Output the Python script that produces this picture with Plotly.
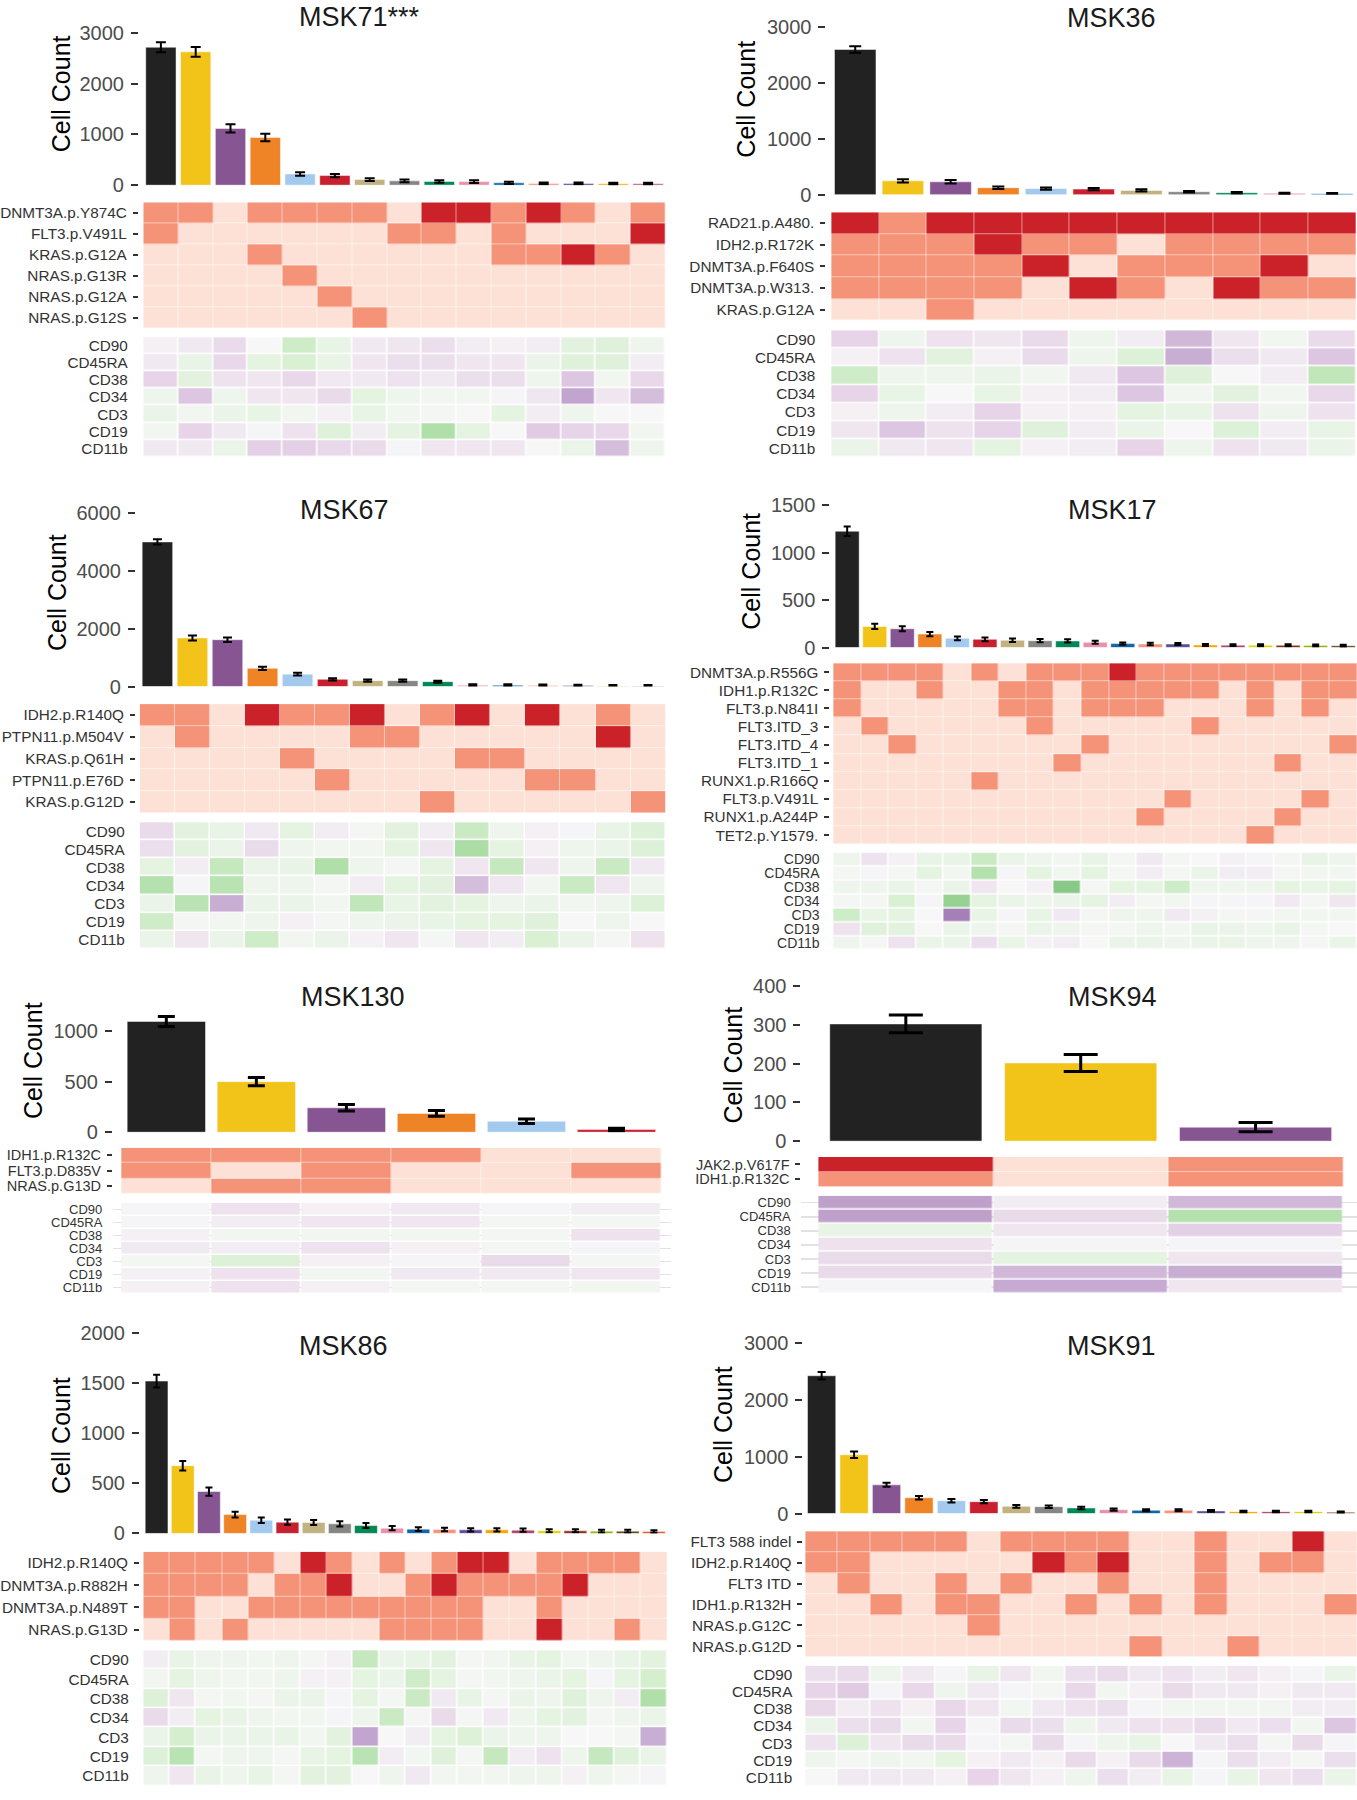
import plotly.graph_objects as go

W, H = 1357, 1800
FONT = "Liberation Sans, Arial, sans-serif"

KELLY = ['#222222', '#F2C318', '#875692', '#EF8427', '#A3CAEE', '#C8202E', '#C2B280',
         '#868684', '#008856', '#E791AE', '#1065A8', '#F99379', '#604E97', '#F6A600',
         '#B3446C', '#DCD300', '#882D17', '#8DB600', '#654522', '#E25822']
MUT_SCALE = [[0, '#FDE1D6'], [0.333, '#FDE1D6'], [0.333, '#F59379'], [0.667, '#F59379'],
             [0.667, '#CB2229'], [1, '#CB2229']]
PROT_SCALE = [[0, '#9970AB'], [1 / 6, '#C2A5CF'], [2 / 6, '#E7D4E8'], [0.5, '#F7F7F7'],
              [4 / 6, '#D9F0D3'], [5 / 6, '#A6DBA0'], [1, '#5AAE61']]
PROTEINS = ['CD90', 'CD45RA', 'CD38', 'CD34', 'CD3', 'CD19', 'CD11b']

# ---------------- MSK71 ----------------
msk71_ticks = [0, 1000, 2000, 3000]
msk71_counts = [2720, 2630, 1120, 940, 220, 190, 110, 85, 72, 70, 46, 35, 33, 27, 26]
msk71_err = [100, 95, 80, 75, 35, 32, 28, 25, 25, 25, 22, 20, 20, 20, 20]
msk71_mut_labels = ['DNMT3A.p.Y874C', 'FLT3.p.V491L', 'KRAS.p.G12A', 'NRAS.p.G13R', 'NRAS.p.G12A', 'NRAS.p.G12S']
msk71_mut = [
    [1, 1, 0, 1, 1, 1, 1, 0, 2, 2, 1, 2, 1, 0, 1],
    [1, 0, 0, 0, 0, 0, 0, 1, 1, 0, 1, 0, 0, 0, 2],
    [0, 0, 0, 1, 0, 0, 0, 0, 0, 0, 1, 1, 2, 1, 0],
    [0, 0, 0, 0, 1, 0, 0, 0, 0, 0, 0, 0, 0, 0, 0],
    [0, 0, 0, 0, 0, 1, 0, 0, 0, 0, 0, 0, 0, 0, 0],
    [0, 0, 0, 0, 0, 0, 1, 0, 0, 0, 0, 0, 0, 0, 0]]
msk71_prot = [
    [-0.2, -0.4, -0.8, 0, 1.2, 0.5, -0.4, -0.5, -0.7, -0.3, -0.2, -0.3, 0.7, 0.8, 0.3],
    [-0.4, 0.5, -0.9, 0.6, 1.0, 0.5, -0.5, -0.7, -0.7, -0.5, -0.5, 0.4, 0.8, 0.8, -0.3],
    [-1.0, 0.7, -0.6, -0.5, -0.9, -0.4, -0.4, -0.6, -0.4, -0.7, -0.7, 0.3, -1.3, 0.2, -0.9],
    [0.3, -1.3, 0.3, -0.5, -0.5, -0.8, 0.6, 0.3, 0.2, 0.2, -0.1, -0.5, -2.0, -0.5, -1.5],
    [0.4, 0.2, 0.4, 0.5, 0.2, -0.2, 0.5, 0.2, 0.1, 0, 0.6, -0.3, 0.3, 0, 0],
    [0.2, -1.0, -0.4, -0.1, -0.6, 0.8, -0.3, 0.6, 1.8, 0.6, 0, -1.2, -1.0, -0.9, 0.2],
    [-0.4, -0.4, 0.4, -1.1, -1.1, -0.9, -0.8, -0.1, -0.5, -0.5, -0.5, 0, 0.4, -1.5, 0.3]]

# ---------------- MSK36 ----------------
msk36_ticks = [0, 1000, 2000, 3000]
msk36_counts = [2590, 247, 230, 125, 110, 100, 77, 53, 35, 24, 18]
msk36_err = [60, 30, 30, 22, 20, 20, 18, 15, 15, 12, 12]
msk36_mut_labels = ['RAD21.p.A480.', 'IDH2.p.R172K', 'DNMT3A.p.F640S', 'DNMT3A.p.W313.', 'KRAS.p.G12A']
msk36_mut = [
    [2, 1, 2, 2, 2, 2, 2, 2, 2, 2, 2],
    [1, 1, 1, 2, 1, 1, 0, 1, 1, 1, 1],
    [1, 1, 1, 1, 2, 0, 1, 1, 1, 2, 0],
    [1, 1, 1, 1, 0, 2, 1, 0, 2, 1, 1],
    [0, 0, 1, 0, 0, 0, 0, 0, 0, 0, 0]]
msk36_prot = [
    [-1.0, 0.3, -0.6, -0.5, -0.8, 0.3, -0.3, -1.6, -0.5, 0.2, -0.8],
    [-0.2, -0.6, 0.7, -0.2, -0.8, 0.3, 0.9, -1.8, -0.7, -0.4, -1.3],
    [1.2, 0.3, 0.3, 0.4, 0.2, -0.4, -1.3, 0.8, 0, -0.3, 1.5],
    [-1.0, 0.5, 0, 0.5, -0.2, -0.3, -1.3, 0.2, 0.7, 0.2, -0.9],
    [-0.2, 0.3, -0.3, -1.0, -0.2, -0.2, 0.6, 0.5, -0.6, 0.3, -0.6],
    [-0.5, -1.3, -0.6, -1.0, 0.8, -0.3, 0.4, 0, 0.9, -0.3, 0.5],
    [0.4, -0.4, -0.5, 0.6, -0.2, -0.3, -1.0, 0.3, -0.6, -0.4, 0.4]]

# ---------------- MSK67 ----------------
msk67_ticks = [0, 2000, 4000, 6000]
msk67_counts = [5000, 1680, 1620, 630, 430, 250, 205, 205, 170, 46, 46, 40, 34, 23, 23]
msk67_err = [90, 85, 75, 55, 45, 40, 38, 38, 35, 30, 30, 30, 30, 30, 30]
msk67_mut_labels = ['IDH2.p.R140Q', 'PTPN11.p.M504V', 'KRAS.p.Q61H', 'PTPN11.p.E76D', 'KRAS.p.G12D']
msk67_mut = [
    [1, 1, 0, 2, 1, 1, 2, 0, 1, 2, 0, 2, 0, 1, 0],
    [0, 1, 0, 0, 0, 0, 1, 1, 0, 0, 0, 0, 0, 2, 0],
    [0, 0, 0, 0, 1, 0, 0, 0, 0, 1, 1, 0, 0, 0, 0],
    [0, 0, 0, 0, 0, 1, 0, 0, 0, 0, 0, 1, 1, 0, 0],
    [0, 0, 0, 0, 0, 0, 0, 0, 1, 0, 0, 0, 0, 0, 1]]
msk67_prot = [
    [-0.8, 0.7, 0.5, -0.4, 0.6, -0.3, 0.1, 0.7, -0.3, 1.3, 0.3, -0.2, -0.1, 0.5, 0.9],
    [-0.7, 0.7, 0.4, -0.8, 0.3, 0.2, 0.2, 0.6, -0.5, 1.9, 0.6, -0.2, 0.3, 0.4, 0.9],
    [0.6, -0.3, 1.4, 0.4, 0.5, 1.8, 0.3, 0.1, 0.6, -0.5, 1.4, -0.5, 0.3, 1.3, -0.4],
    [1.7, -0.1, 1.6, 0.3, 0.3, 0.1, -0.3, 0.6, 0.7, -1.5, -0.5, 0.2, 1.3, -0.5, 0.3],
    [0.4, 1.6, -1.8, 0.4, 0.4, 0.2, 1.5, 0.5, 0.7, 0.6, 0.3, 0.4, 0.2, 0.3, 0.9],
    [1.2, 0.1, 0.2, 0.3, -0.2, 0.1, 0.3, 0.4, 0.5, 0.6, 0.6, 0.8, 0, 0.3, 0],
    [0.4, -0.5, 0.4, 1.2, 0.2, 0.4, -0.2, -0.5, 0.1, -0.5, -0.3, 1.0, 0.4, 0.1, -0.6]]

# ---------------- MSK17 ----------------
msk17_ticks = [0, 500, 1000, 1500]
msk17_counts = [1228, 223, 199, 143, 98, 87, 77, 73, 70, 56, 42, 38, 38, 28, 26, 24, 24, 22, 20]
msk17_err = [50, 28, 27, 22, 20, 20, 18, 17, 17, 15, 12, 12, 11, 10, 10, 10, 10, 10, 10]
msk17_mut_labels = ['DNMT3A.p.R556G', 'IDH1.p.R132C', 'FLT3.p.N841I', 'FLT3.ITD_3', 'FLT3.ITD_4',
                    'FLT3.ITD_1', 'RUNX1.p.R166Q', 'FLT3.p.V491L', 'RUNX1.p.A244P', 'TET2.p.Y1579.']
msk17_mut = [
    [1, 1, 1, 1, 0, 1, 0, 1, 1, 1, 2, 1, 1, 1, 1, 1, 1, 1, 1],
    [1, 0, 0, 1, 0, 0, 1, 1, 0, 1, 1, 1, 1, 1, 0, 1, 0, 1, 1],
    [1, 0, 0, 0, 0, 0, 1, 1, 0, 1, 1, 1, 0, 0, 0, 1, 0, 1, 0],
    [0, 1, 0, 0, 0, 0, 0, 1, 0, 0, 0, 0, 0, 1, 0, 0, 0, 0, 0],
    [0, 0, 1, 0, 0, 0, 0, 0, 0, 1, 0, 0, 0, 0, 0, 0, 0, 0, 1],
    [0, 0, 0, 0, 0, 0, 0, 0, 1, 0, 0, 0, 0, 0, 0, 0, 1, 0, 0],
    [0, 0, 0, 0, 0, 1, 0, 0, 0, 0, 0, 0, 0, 0, 0, 0, 0, 0, 0],
    [0, 0, 0, 0, 0, 0, 0, 0, 0, 0, 0, 0, 1, 0, 0, 0, 0, 1, 0],
    [0, 0, 0, 0, 0, 0, 0, 0, 0, 0, 0, 1, 0, 0, 0, 0, 1, 0, 0],
    [0, 0, 0, 0, 0, 0, 0, 0, 0, 0, 0, 0, 0, 0, 0, 1, 0, 0, 0]]
msk17_prot = [
    [0.3, -0.6, -0.2, 0.5, 0.5, 1.3, 0.4, 0.3, 0.2, 0.5, 0.1, -0.4, 0.1, 0, -0.2, -0.1, 0.1, 0.5, 0.3],
    [0.1, -0.1, 0.1, 0.6, 0.2, 1.7, -0.1, 0.6, 0.2, 0.6, 0.1, -0.3, 0.1, 0.4, -0.3, -0.3, 0.1, 0.2, 0.2],
    [0.3, 0.3, 0.4, 0.1, 0.4, -0.5, 0, -0.2, 2.4, 0.1, 0.6, 0.6, 1.2, 0.3, 0.3, 0.3, 0.6, 0.5, 0.6],
    [0.1, 0.1, 1.0, -0.1, 2.2, 0.6, 0.4, 0.3, 0.4, 0.6, -0.3, 0.1, 0.2, -0.1, -0.1, -0.1, -0.4, 0.1, -0.5],
    [1.2, 0.5, 0.6, 0, -2.7, 0.5, -0.1, 0.5, -0.4, 0.1, 0.3, 0.3, -0.4, -0.2, 0.1, 0.1, 0.2, 0.2, 0.2],
    [-0.6, 0.8, 0.7, 0, 0.4, 0.3, 0.1, 0.4, 0.3, 0.1, 0.1, 0.3, 0.2, 0.5, 0.4, 0.3, 0.5, 0.1, 0],
    [0.3, 0.1, -0.6, 0.4, 0.4, -0.7, 0.5, -0.2, -0.3, 0, 0.4, 0.4, 0.3, 0.4, 0.5, 0.3, 0.3, 0.1, 0.4]]

# ---------------- MSK130 ----------------
msk130_ticks = [0, 500, 1000]
msk130_counts = [1095, 500, 242, 186, 108, 26]
msk130_err = [50, 41, 31, 28, 23, 14]
msk130_mut_labels = ['IDH1.p.R132C', 'FLT3.p.D835V', 'NRAS.p.G13D']
msk130_mut = [
    [1, 1, 1, 1, 0, 0],
    [1, 0, 1, 0, 0, 1],
    [0, 1, 1, 0, 0, 0]]
msk130_prot = [
    [-0.1, -0.6, -0.2, -0.4, -0.1, -0.3],
    [-0.1, -0.3, -0.5, -0.5, 0.1, 0.1],
    [-0.2, 0.2, 0.2, 0.2, 0.1, -0.6],
    [-0.4, -0.3, -0.6, -0.2, 0.1, -0.1],
    [0.1, 0.9, -0.2, -0.1, -0.8, 0.1],
    [-0.2, -0.6, 0.2, -0.4, -0.4, -0.5],
    [-0.2, -0.6, -0.2, 0.1, 0.1, 0.2]]

# ---------------- MSK94 ----------------
msk94_ticks = [0, 100, 200, 300, 400]
msk94_counts = [303, 202, 36]
msk94_err = [23, 22, 12]
msk94_mut_labels = ['JAK2.p.V617F', 'IDH1.p.R132C']
msk94_mut = [[2, 0, 1], [1, 0, 1]]
msk94_prot = [
    [-2.1, -0.3, -1.6],
    [-2.1, -0.8, 1.7],
    [0.5, -0.5, -1.1],
    [-0.6, -0.1, -0.1],
    [-0.8, 0.6, -0.5],
    [-0.8, -1.6, -1.8],
    [-0.1, -1.9, -0.5]]

# ---------------- MSK86 ----------------
msk86_ticks = [0, 500, 1000, 1500, 2000]
msk86_counts = [1519, 675, 418, 188, 132, 112, 109, 96, 79, 53, 43, 40, 36, 36, 33, 26, 26, 23, 23, 20]
msk86_err = [64, 48, 41, 28, 28, 26, 26, 26, 24, 21, 19, 18, 17, 17, 16, 15, 15, 14, 14, 13]
msk86_mut_labels = ['IDH2.p.R140Q', 'DNMT3A.p.R882H', 'DNMT3A.p.N489T', 'NRAS.p.G13D']
msk86_mut = [
    [1, 1, 1, 1, 1, 0, 2, 1, 0, 1, 0, 1, 2, 2, 0, 1, 1, 1, 1, 0],
    [1, 1, 1, 1, 0, 1, 1, 2, 0, 0, 1, 2, 1, 1, 1, 1, 2, 0, 0, 0],
    [1, 1, 0, 0, 1, 1, 1, 1, 1, 1, 1, 1, 1, 0, 0, 1, 0, 0, 0, 0],
    [0, 1, 0, 1, 0, 0, 0, 0, 0, 1, 1, 1, 1, 0, 0, 2, 0, 0, 1, 0]]
msk86_prot = [
    [-0.3, 0.5, 0.3, 0.3, 0.2, 0.3, 0.1, -0.2, 1.4, 0.4, 0.5, 0.7, 0.1, 0.2, 0.5, 0.6, 0.2, 0.3, 0.5, 0.7],
    [0.2, 0.6, 0.3, 0.2, 0.2, 0.3, -0.2, -0.2, 0.6, 0.4, 1.2, 0.6, 0.1, 0.2, 0.3, 0.4, 0.6, -0.1, 0.6, 1.1],
    [0.9, -0.5, 0.1, 0.2, 0.1, 0.4, 0.4, -0.1, 0.6, 0.1, 1.3, -0.4, 0.5, 0.1, 0.4, 0.3, 0.8, 0.3, -0.3, 1.8],
    [-0.8, -0.3, 0.6, 0.5, 0.3, 0.2, 0.2, -0.1, 0.3, 1.3, 0.1, -0.8, 0.1, -0.4, 0.3, 0.6, 0.7, 0.1, 0.3, 0.4],
    [0.4, 1.1, 0.4, 0.4, 0.4, 0.5, 0.2, 0.7, -2.0, 0, -0.3, 0.6, 0.9, 0.4, 0.3, 0.3, 0, 0, 0.1, -1.8],
    [0.9, 1.6, 0.1, 0.3, 0.3, 0.1, 0.5, 0.6, 1.6, -0.3, 0.2, 0.8, 0.1, 1.4, -0.3, -0.6, 0.3, 1.4, 0.8, 0.4],
    [0.3, -0.5, 0.5, 0.3, 0.5, 0.1, 0.7, 0.7, 0, 0.3, -0.4, 0.2, 0.2, 0.2, 0.3, 0.3, -0.2, 0.3, 0.1, -0.1]]

# ---------------- MSK91 ----------------
msk91_ticks = [0, 1000, 2000, 3000]
msk91_counts = [2430, 1037, 507, 280, 227, 210, 128, 122, 99, 70, 58, 58, 47, 35, 35, 35, 23]
msk91_err = [65, 56, 35, 32, 30, 28, 23, 22, 20, 18, 17, 17, 16, 15, 15, 15, 14]
msk91_mut_labels = ['FLT3 588 indel', 'IDH2.p.R140Q', 'FLT3 ITD', 'IDH1.p.R132H', 'NRAS.p.G12C', 'NRAS.p.G12D']
msk91_mut = [
    [1, 1, 1, 1, 1, 0, 1, 1, 1, 1, 0, 0, 1, 0, 0, 2, 0],
    [1, 1, 0, 0, 0, 0, 0, 2, 1, 2, 0, 0, 1, 0, 1, 1, 0],
    [0, 1, 0, 0, 1, 0, 1, 0, 0, 1, 0, 0, 1, 0, 0, 0, 0],
    [0, 0, 1, 0, 1, 1, 0, 0, 1, 0, 1, 0, 1, 0, 0, 0, 1],
    [0, 0, 0, 0, 0, 1, 0, 0, 0, 0, 0, 0, 0, 0, 0, 0, 0],
    [0, 0, 0, 0, 0, 0, 0, 0, 0, 0, 1, 0, 0, 1, 0, 0, 0]]
msk91_prot = [
    [-0.7, -0.8, 0.3, -0.4, -0.1, 0.5, -0.5, 0.2, -0.7, -0.8, -0.4, -0.6, -0.3, -0.5, -0.2, -0.1, 0.4],
    [-1.0, -1.2, -0.1, -0.9, 0.3, -0.4, -0.1, 0.1, -0.9, 0.2, -0.2, -0.8, -0.4, -0.4, -0.2, -0.4, -0.4],
    [-0.9, -0.3, -0.6, -0.2, -0.9, -0.5, 0.2, -0.4, -0.6, -0.7, -0.1, 0.2, 0.2, 0.2, 0.2, -0.3, -0.3],
    [0.4, -0.7, -0.8, 0.2, -1.0, -0.1, -0.8, -0.7, 0.3, -0.4, -0.6, -0.6, -0.8, -0.4, -0.7, 0.2, -1.3],
    [-0.6, 0.9, -0.5, -0.8, -0.8, -0.1, 0.1, -0.8, -0.1, 0.3, 0.5, 0, -0.4, -0.7, 0.1, -0.8, -0.1],
    [0.3, 0.1, 0.3, 0.2, 0.6, -0.2, -0.4, -0.2, -0.8, -0.2, -0.8, -1.7, -0.1, -0.7, -0.3, 0.1, -0.7],
    [0, -0.4, -0.4, -0.4, -0.2, -1.0, -0.5, -0.2, 0.3, -0.7, -0.3, 0.5, -0.1, 0.5, -0.5, -0.7, 0.4]]

# ---------------- layout geometry (pixels) ----------------
GEO = {
    'MSK71': dict(heat_x=(142.6, 665), axis_x=138, zero=182.7, tick_val=3000, tick_px=29.3, bar_top=20,
                  mut_y=(200, 326.7), prot_y=(336, 456.7), title=(359, 13), ylab=(60, 90), cap=5, thick=2,
                  pad_r=0, mut_font=15.3, prot_font=15.3),
    'MSK36': dict(heat_x=(831, 1356), axis_x=826, zero=192.3, tick_val=3000, tick_px=22.7, bar_top=14,
                  mut_y=(210, 319.3), prot_y=(329, 457.3), title=(1111, 14), ylab=(746, 96), cap=6, thick=2,
                  pad_r=0, mut_font=15.3, prot_font=15.3),
    'MSK67': dict(heat_x=(139, 665), axis_x=135, zero=688.3, tick_val=6000, tick_px=513.3, bar_top=505,
                  mut_y=(706, 815.7), prot_y=(825, 953), title=(344, 510), ylab=(56, 593), cap=4.5, thick=2,
                  pad_r=0, mut_font=15.3, prot_font=15.3),
    'MSK17': dict(heat_x=(833, 1357), axis_x=830, zero=649, tick_val=1500, tick_px=505.7, bar_top=497,
                  mut_y=(664.7, 847.3), prot_y=(855.7, 954), title=(1112, 510), ylab=(751, 572), cap=3.5, thick=2,
                  pad_r=0, mut_font=15.3, prot_font=14),
    'MSK130': dict(heat_x=(120.4, 661), axis_x=112, zero=1137.7, tick_val=1000, tick_px=1035.7, bar_top=1012,
                   mut_y=(1153.3, 1200), prot_y=(1209, 1301), title=(352, 1001.7), ylab=(32, 1065), cap=8.5,
                   thick=3, pad_r=9, mut_font=14.5, prot_font=13),
    'MSK94': dict(heat_x=(818, 1343), axis_x=801, zero=1146.7, tick_val=400, tick_px=990.7, bar_top=984,
                  mut_y=(1162.7, 1192.7), prot_y=(1201.7, 1301), title=(1112, 1001.7), ylab=(733, 1070), cap=17,
                  thick=3, pad_r=14, mut_font=14.5, prot_font=13),
    'MSK86': dict(heat_x=(142.6, 666.5), axis_x=139, zero=1542.3, tick_val=2000, tick_px=1340, bar_top=1333,
                  mut_y=(1560.7, 1650.7), prot_y=(1660, 1796.7), title=(343, 1353), ylab=(60, 1443), cap=3.5,
                  thick=2, pad_r=0, mut_font=15.3, prot_font=15.3),
    'MSK91': dict(heat_x=(805, 1357), axis_x=803, zero=1522.3, tick_val=3000, tick_px=1350.7, bar_top=1344,
                  mut_y=(1540, 1666.7), prot_y=(1675.7, 1797.3), title=(1111, 1353), ylab=(722.5, 1432), cap=4,
                  thick=2, pad_r=0, mut_font=15.3, prot_font=15.3),
}

PANELS = [
    ('MSK71', 'MSK71***', msk71_ticks, msk71_counts, msk71_err, msk71_mut_labels, msk71_mut, msk71_prot),
    ('MSK36', 'MSK36', msk36_ticks, msk36_counts, msk36_err, msk36_mut_labels, msk36_mut, msk36_prot),
    ('MSK67', 'MSK67', msk67_ticks, msk67_counts, msk67_err, msk67_mut_labels, msk67_mut, msk67_prot),
    ('MSK17', 'MSK17', msk17_ticks, msk17_counts, msk17_err, msk17_mut_labels, msk17_mut, msk17_prot),
    ('MSK130', 'MSK130', msk130_ticks, msk130_counts, msk130_err, msk130_mut_labels, msk130_mut, msk130_prot),
    ('MSK94', 'MSK94', msk94_ticks, msk94_counts, msk94_err, msk94_mut_labels, msk94_mut, msk94_prot),
    ('MSK86', 'MSK86', msk86_ticks, msk86_counts, msk86_err, msk86_mut_labels, msk86_mut, msk86_prot),
    ('MSK91', 'MSK91', msk91_ticks, msk91_counts, msk91_err, msk91_mut_labels, msk91_mut, msk91_prot),
]

fig = go.Figure()
axes = {}
annotations = []


def sfx(k):
    return '' if k == 1 else str(k)


def ydom(top_px, bot_px):
    return [max(0.0, 1 - bot_px / H), min(1.0, 1 - top_px / H)]


k = 0
for key, title, ticks, counts, err, mut_labels, mut, prot in PANELS:
    g = GEO[key]
    n = len(counts)
    hl, hr = g['heat_x']
    colw = (hr - hl) / n
    ax_px = g['axis_x']
    padr = g['pad_r']
    xdom = [ax_px / W, min(1.0, (hr + padr) / W)]
    xr = [-0.5 - (hl - ax_px) / colw, n - 0.5 + padr / colw]
    xs = list(range(n))

    # ---- bar chart ----
    k += 1
    s = sfx(k)
    scale = (g['zero'] - g['tick_px']) / g['tick_val']
    ytop = (g['zero'] - g['bar_top']) / scale
    fig.add_trace(go.Bar(
        x=xs, y=counts, width=0.87,
        marker=dict(color=KELLY[:n], line=dict(width=0.6, color='rgba(255,255,255,0.8)')),
        error_y=dict(type='data', array=err, color='black', thickness=g['thick'], width=g['cap']),
        xaxis='x' + s, yaxis='y' + s, showlegend=False, hoverinfo='skip'))
    axes['xaxis' + s] = dict(domain=xdom, range=xr, anchor='y' + s, showticklabels=False, ticks='',
                             showgrid=False, zeroline=False, showline=False)
    axes['yaxis' + s] = dict(domain=ydom(g['bar_top'], g['zero']), range=[0, ytop], anchor='x' + s,
                             tickmode='array', tickvals=ticks, ticktext=[str(t) for t in ticks],
                             ticks='outside', ticklen=7, tickwidth=2, tickcolor='#333333',
                             tickfont=dict(family=FONT, size=20, color='#4D4D4D'),
                             ticklabelstandoff=3,
                             showgrid=False, zeroline=False, showline=False)

    # ---- mutation heatmap ----
    k += 1
    s = sfx(k)
    fig.add_trace(go.Heatmap(
        z=mut, x=xs, y=mut_labels, zmin=0, zmax=2, colorscale=MUT_SCALE, showscale=False,
        xgap=0.5, ygap=0.5, xaxis='x' + s, yaxis='y' + s, hoverinfo='skip'))
    axes['xaxis' + s] = dict(domain=xdom, range=xr, anchor='y' + s, showticklabels=False, ticks='',
                             showgrid=False, zeroline=False, showline=False)
    axes['yaxis' + s] = dict(domain=ydom(*g['mut_y']), anchor='x' + s, type='category',
                             categoryorder='array', categoryarray=mut_labels, autorange='reversed',
                             tickmode='array', tickvals=mut_labels, ticktext=mut_labels,
                             ticks='outside', ticklen=5, tickwidth=2, tickcolor='#333333',
                             tickfont=dict(family=FONT, size=g['mut_font'], color='#333333'),
                             ticklabelstandoff=3,
                             showgrid=False, zeroline=False, showline=False)

    # ---- protein heatmap ----
    k += 1
    s = sfx(k)
    fig.add_trace(go.Heatmap(
        z=prot, x=xs, y=PROTEINS, zmin=-3, zmax=3, colorscale=PROT_SCALE, showscale=False,
        xgap=1.5, ygap=1.5, xaxis='x' + s, yaxis='y' + s, hoverinfo='skip'))
    axes['xaxis' + s] = dict(domain=xdom, range=xr, anchor='y' + s, showticklabels=False, ticks='',
                             showgrid=False, zeroline=False, showline=False)
    axes['yaxis' + s] = dict(domain=ydom(*g['prot_y']), anchor='x' + s, type='category',
                             categoryorder='array', categoryarray=PROTEINS, autorange='reversed',
                             tickmode='array', tickvals=PROTEINS, ticktext=PROTEINS,
                             ticks='outside', ticklen=7, tickcolor='rgba(0,0,0,0)',
                             tickfont=dict(family=FONT, size=g['prot_font'], color='#333333'),
                             showgrid=padr > 0, gridcolor='#E2E2E2', gridwidth=1.5,
                             zeroline=False, showline=False)

    # ---- titles ----
    tx, ty = g['title']
    annotations.append(dict(text=title, x=tx / W, y=1 - ty / H, xref='paper', yref='paper',
                            xanchor='center', yanchor='middle', showarrow=False,
                            font=dict(family=FONT, size=27, color='#1A1A1A')))
    lx, ly = g['ylab']
    annotations.append(dict(text='Cell Count', x=lx / W, y=1 - ly / H, xref='paper', yref='paper',
                            xanchor='center', yanchor='middle', showarrow=False, textangle=-90,
                            font=dict(family=FONT, size=25, color='#000000')))

fig.update_layout(
    width=W, height=H, margin=dict(l=0, r=0, t=0, b=0),
    paper_bgcolor='white', plot_bgcolor='white',
    showlegend=False, annotations=annotations,
    font=dict(family=FONT), **axes)

fig.write_html("out.html", config={'displayModeBar': False, 'staticPlot': True},
               post_script="document.body.style.margin='0px';document.body.style.padding='0px';")
